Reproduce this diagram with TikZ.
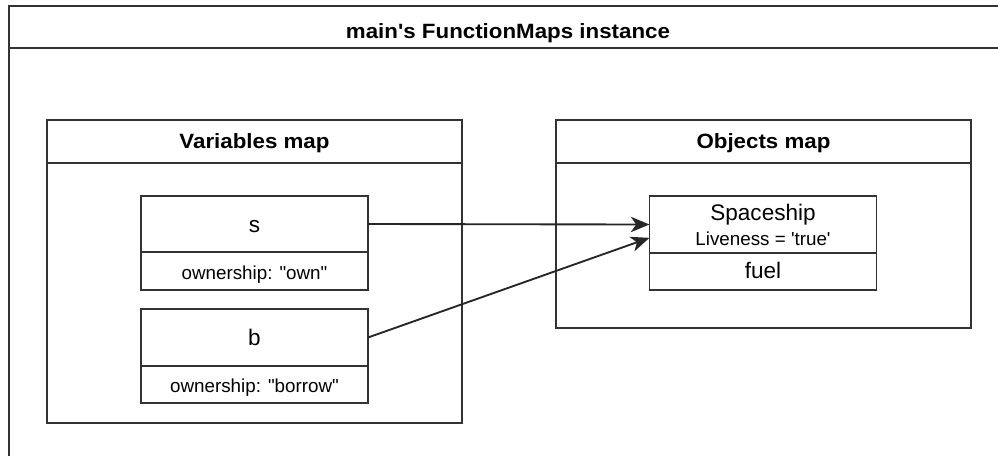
\documentclass[tikz,border=0pt]{standalone}
\usepackage{fontspec}
\setmainfont{Liberation Sans}[Ligatures=TeXOff]
\newfontfamily\headfont{Liberation Sans}[Ligatures=TeXOff, FakeStretch=1.08]
\usetikzlibrary{arrows.meta}
\tikzset{
  box/.style = {draw = black!80, line width = 1.4pt, inner sep = 0pt, outer sep = 0pt},
  head/.style = {box, font = \headfont\fontsize{15.5}{18}\selectfont\bfseries, text height = 11pt, text depth = 0pt},
  big/.style = {font = \fontsize{16.9}{20}\selectfont, text height = 12pt, text depth = 0pt},
  small/.style = {font = \fontsize{14.1}{17}\selectfont, text height = 12.4pt, text depth = 0pt},
  cell/.style = {box, minimum width = 170.25pt},
  link/.style = {draw = black!85, line width = 1.4pt, -{Stealth[length = 14pt, width = 11.5pt, inset = 4pt]}},
}
\begin{document}
\begin{tikzpicture}[x = .75pt, y = -.75pt]
  \useasboundingbox (0,0) rectangle (998,455);
  \node [head, text height = 17.5pt, minimum width = 748.5pt, minimum height = 31.5pt] (fm) at (508,27) {main's FunctionMaps instance};
  \node [box, minimum width = 748.5pt, minimum height = 316.5pt] (fmbody) at (508,259) {};
  \node [head, minimum width = 311.25pt, minimum height = 32.25pt] (vars) at (254.5,141.5) {Variables map};
  \node [box, minimum width = 311.25pt, minimum height = 195pt] (varsbody) at (254.5,293) {};
  \node [head, minimum width = 311.25pt, minimum height = 32.25pt] (objs) at (763.5,141.5) {Objects map};
  \node [box, minimum width = 311.25pt, minimum height = 123.75pt] (objsbody) at (763.5,245.5) {};
  \node [cell, big, minimum height = 42pt] (s) at (254.5,224) {s};
  \node [cell, small, minimum height = 28.5pt] (sown) at (254.5,271) {ownership: "own"};
  \node [cell, big, minimum height = 42.75pt] (b) at (254.5,337.5) {b};
  \node [cell, small, minimum height = 27.75pt] (bown) at (254.5,384.5) {ownership: "borrow"};
  \node [cell, minimum height = 42.75pt] (ship) at (763,224.5) {};
  \node [big, anchor = base] (shipname) at (763,220) {Spaceship};
  \node [small, anchor = base] (shiplive) at (763,245) {Liveness = 'true'};
  \node [cell, big, text height = 10.2pt, minimum height = 27.75pt] (fuel) at (763,271.5) {fuel};
  \draw [link] (s.east) -- (ship.west);
  \draw [link] (b.east) -- ([yshift = -10pt]ship.west);
\end{tikzpicture}
\end{document}
